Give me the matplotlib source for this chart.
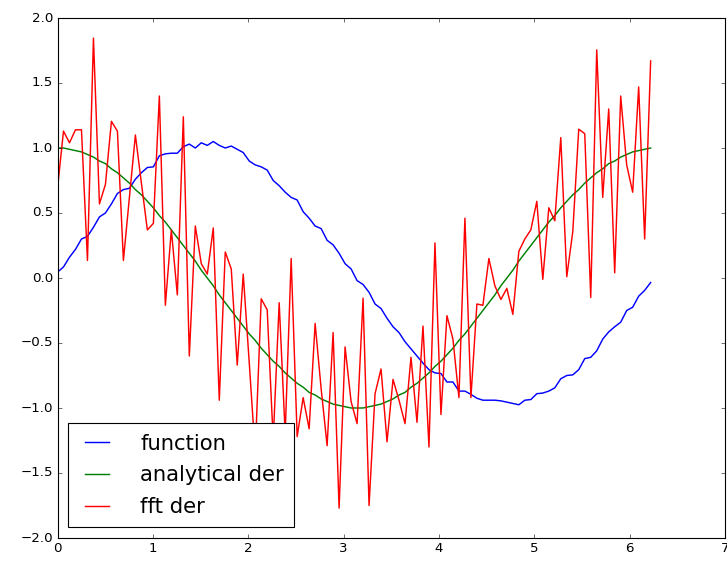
import matplotlib
matplotlib.use("Agg")
import matplotlib.pyplot as plt
import numpy as np

plt.style.use("classic")

# sample grid: 100 points over one period, last point excluded
x_start, x_end, n_points = 0.0, 2 * np.pi, 100

# noisy function
func_vals = [
    0.045, 0.085, 0.16, 0.22, 0.30, 0.32, 0.39, 0.47, 0.50, 0.57,
    0.65, 0.68, 0.69, 0.76, 0.81, 0.85, 0.855, 0.94, 0.955, 0.96,
    0.96, 1.01, 1.03, 1.00, 1.04, 1.02, 1.05, 1.02, 1.00, 1.015,
    0.99, 0.965, 0.90, 0.87, 0.855, 0.83, 0.75, 0.71, 0.66, 0.62,
    0.60, 0.51, 0.46, 0.40, 0.38, 0.29, 0.255, 0.19, 0.11, 0.07,
    -0.02, -0.05, -0.11, -0.20, -0.235, -0.31, -0.375, -0.42, -0.49, -0.545,
    -0.60, -0.655, -0.705, -0.73, -0.735, -0.80, -0.80, -0.87, -0.87, -0.895,
    -0.925, -0.94, -0.94, -0.94, -0.945, -0.955, -0.965, -0.975, -0.94, -0.935,
    -0.89, -0.885, -0.87, -0.845, -0.775, -0.75, -0.745, -0.705, -0.62, -0.61,
    -0.56, -0.47, -0.415, -0.375, -0.34, -0.25, -0.225, -0.14, -0.095, -0.035,
]

# analytical derivative
analytic_vals = [
    1.00, 1.00, 0.99, 0.98, 0.97, 0.95, 0.93, 0.90, 0.88, 0.84,
    0.81, 0.77, 0.73, 0.68, 0.64, 0.59, 0.54, 0.48, 0.43, 0.37,
    0.31, 0.25, 0.19, 0.13, 0.06, 0.00, -0.06, -0.13, -0.19, -0.25,
    -0.31, -0.37, -0.43, -0.48, -0.54, -0.59, -0.64, -0.68, -0.73, -0.77,
    -0.81, -0.84, -0.88, -0.90, -0.93, -0.95, -0.97, -0.98, -0.99, -1.00,
    -1.00, -1.00, -0.99, -0.98, -0.97, -0.95, -0.93, -0.90, -0.88, -0.84,
    -0.81, -0.77, -0.73, -0.68, -0.64, -0.59, -0.54, -0.48, -0.43, -0.37,
    -0.31, -0.25, -0.19, -0.13, -0.06, 0.00, 0.06, 0.13, 0.19, 0.25,
    0.31, 0.37, 0.43, 0.48, 0.54, 0.59, 0.64, 0.68, 0.73, 0.77,
    0.81, 0.84, 0.88, 0.90, 0.93, 0.95, 0.97, 0.98, 0.99, 1.00,
]

# fft derivative
fft_vals = [
    0.69, 1.13, 1.04, 1.14, 1.14, 0.135, 1.845, 0.57, 0.72, 1.205,
    1.13, 0.135, 0.62, 1.10, 0.73, 0.37, 0.42, 1.40, -0.21, 0.37,
    -0.13, 1.24, -0.60, 0.40, 0.11, 0.03, 0.385, -0.94, 0.20, 0.07,
    -0.67, 0.03, -0.65, -1.35, -0.16, -0.245, -1.25, -0.19, -1.20, 0.15,
    -1.22, -0.92, -1.16, -0.35, -0.85, -1.29, -0.42, -1.77, -0.53, -0.95,
    -1.12, -0.155, -1.75, -0.89, -0.70, -1.26, -0.78, -0.94, -1.12, -0.61,
    -1.11, -0.37, -1.30, 0.27, -1.05, -0.29, -0.47, -0.92, 0.46, -0.92,
    -0.20, -0.21, 0.15, -0.06, -0.165, -0.08, -0.28, 0.205, 0.30, 0.37,
    0.59, -0.01, 0.54, 0.44, 1.08, 0.01, 0.355, 1.145, 1.11, -0.15,
    1.755, 0.62, 1.30, 0.04, 1.40, 0.87, 0.66, 1.47, 0.30, 1.67,
]

x = np.linspace(x_start, x_end, n_points, endpoint=False)

fig = plt.figure(figsize=(727 / 80, 561 / 80), dpi=80, facecolor="white")
ax = fig.add_axes([57.5 / 727, 1 - 538 / 561, (725 - 57.5) / 727, 520 / 561])

ax.plot(x, func_vals, "b", lw=1.3, label="function")
ax.plot(x, analytic_vals, "g", lw=1.3, label="analytical der")
ax.plot(x, fft_vals, "r", lw=1.3, label="fft der")

ax.set_xlim(0, 7)
ax.set_ylim(-2, 2)
ax.legend(loc="lower left", fontsize=19, borderpad=0.5, borderaxespad=0.5,
          handlelength=1.75, handletextpad=1.16, labelspacing=0.55)

fig.savefig("out.png", dpi=80, facecolor="white")
plt.close(fig)
